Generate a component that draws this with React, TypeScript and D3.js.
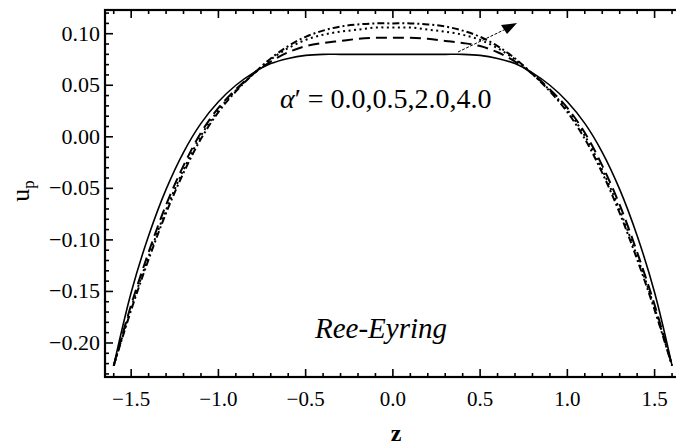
import React from "react";
import * as d3 from "d3";

const zValues = [-1.6,-1.5,-1.4,-1.3,-1.2,-1.1,-1.0,-0.9,-0.8,-0.7,-0.6,-0.5,-0.4,-0.3,-0.2,-0.1,0,0.1,0.2,0.3,0.4,0.5,0.6,0.7,0.8,0.9,1.0,1.1,1.2,1.3,1.4,1.5,1.6];

// alpha' = 0.0 (solid)
const uAlpha00 = [-0.222,-0.151,-0.096,-0.051,-0.015,0.013,0.034,0.050,0.062,0.071,0.076,0.079,0.080,0.080,0.080,0.080,0.080,0.080,0.080,0.080,0.080,0.079,0.076,0.071,0.062,0.050,0.034,0.013,-0.015,-0.051,-0.096,-0.151,-0.222];
// alpha' = 0.5 (dashed)
const uAlpha05 = [-0.222,-0.163,-0.112,-0.066,-0.028,0.004,0.028,0.046,0.061,0.073,0.082,0.088,0.091,0.093,0.095,0.096,0.096,0.096,0.095,0.093,0.091,0.088,0.082,0.073,0.061,0.046,0.028,0.004,-0.028,-0.066,-0.112,-0.163,-0.222];
// alpha' = 2.0 (dotted)
const uAlpha20 = [-0.222,-0.166,-0.116,-0.071,-0.032,0.001,0.026,0.045,0.061,0.075,0.086,0.094,0.099,0.102,0.104,0.106,0.106,0.106,0.104,0.102,0.099,0.094,0.086,0.075,0.061,0.045,0.026,0.001,-0.032,-0.071,-0.116,-0.166,-0.222];
// alpha' = 4.0 (dot-dashed)
const uAlpha40 = [-0.222,-0.168,-0.119,-0.074,-0.035,-0.002,0.024,0.044,0.061,0.076,0.088,0.097,0.103,0.107,0.109,0.110,0.110,0.110,0.109,0.107,0.103,0.097,0.088,0.076,0.061,0.044,0.024,-0.002,-0.035,-0.074,-0.119,-0.168,-0.222];

const xTickValues = [-1.5,-1.0,-0.5,0.0,0.5,1.0,1.5];
const xTickLabels = ["\u22121.5","\u22121.0","\u22120.5","0.0","0.5","1.0","1.5"];
const yTickValues = [0.10,0.05,0.00,-0.05,-0.10,-0.15,-0.20];
const yTickLabels = ["0.10","0.05","0.00","\u22120.05","\u22120.10","\u22120.15","\u22120.20"];

const seriesDefs = [
  { values: uAlpha00, dash: "none" },
  { values: uAlpha05, dash: "11 6" },
  { values: uAlpha20, dash: "2 3.5" },
  { values: uAlpha40, dash: "7 3 2 3" },
];

const W = 676, H = 448;
const serif = "'Liberation Serif', 'Times New Roman', serif";

export default function App() {
  const x = d3.scaleLinear().domain([-1.65, 1.68]).range([105, 686]);
  const y = d3.scaleLinear().domain([-0.233, 0.123]).range([377, 10]);
  const [x0, x1] = x.range();
  const [yb, yt] = y.range();

  const line = d3.line<number>()
    .x((_, i) => x(zValues[i]))
    .y((d) => y(d))
    .curve(d3.curveCatmullRom.alpha(0.5));

  const xMinor = d3.range(-16, 17).map((k) => k / 10);
  const yMinor = d3.range(-23, 13).map((k) => k / 100);
  const isMajorX = (v: number) => Math.abs(v * 2 - Math.round(v * 2)) < 1e-6;
  const isMajorY = (v: number) => Math.abs(v * 20 - Math.round(v * 20)) < 1e-6;

  return (
    <svg width={W} height={H} style={{ position: "absolute", left: 0, top: 0, background: "#fff" }}>
      <rect x={0} y={0} width={W} height={H} fill="#fff" />
      <defs>
        <clipPath id="plotclip">
          <rect x={x0} y={yt} width={x1 - x0} height={yb - yt} />
        </clipPath>
      </defs>
      <g clipPath="url(#plotclip)">
        {seriesDefs.map((s, i) => (
          <path key={i} d={line(s.values) || ""} fill="none" stroke="#000"
            strokeWidth={i === 0 ? 1.6 : 2} strokeDasharray={s.dash} />
        ))}
      </g>
      {xMinor.map((v, i) => {
        const len = isMajorX(v) ? 8 : 4;
        return (
          <g key={"xt" + i} stroke="#000" strokeWidth={1.6}>
            <line x1={x(v)} x2={x(v)} y1={yb} y2={yb - len} />
            <line x1={x(v)} x2={x(v)} y1={yt} y2={yt + len} />
          </g>
        );
      })}
      {yMinor.map((v, i) => {
        const len = isMajorY(v) ? 8 : 4;
        return (
          <line key={"yt" + i} x1={x0} x2={x0 + len} y1={y(v)} y2={y(v)} stroke="#000" strokeWidth={1.6} />
        );
      })}
      <rect x={x0} y={yt} width={x1 - x0} height={yb - yt} fill="none" stroke="#000" strokeWidth={2.2} />
      {xTickValues.map((v, i) => (
        <text key={"xl" + i} x={x(v)} y={yb + 29} textAnchor="middle" fontFamily={serif} fontSize={21} fill="#000">
          {xTickLabels[i]}
        </text>
      ))}
      {yTickValues.map((v, i) => (
        <text key={"yl" + i} x={x0 - 5} y={y(v) + 7} textAnchor="end" fontFamily={serif} fontSize={22} fill="#000">
          {yTickLabels[i]}
        </text>
      ))}
      <text x={396} y={441} textAnchor="middle" fontFamily={serif} fontSize={24} fontWeight="bold" fill="#000">z</text>
      <text transform="translate(29,191) rotate(-90)" textAnchor="middle" fontFamily={serif} fontSize={26} fill="#000">
        u<tspan fontSize={17} dy={5}>p</tspan>
      </text>
      <text x={280} y={108} fontFamily={serif} fontSize={28} fill="#000">
        <tspan fontStyle="italic">α</tspan>′ = 0.0,0.5,2.0,4.0
      </text>
      <text x={315} y={338} fontFamily={serif} fontSize={29} fontStyle="italic" fill="#000">Ree-Eyring</text>
      <line x1={458} y1={52} x2={508} y2={28} stroke="#000" strokeWidth={1} strokeDasharray="3 1.5" />
      <path d="M517,23 L501,25 L507,34 Z" fill="#000" />
    </svg>
  );
}
